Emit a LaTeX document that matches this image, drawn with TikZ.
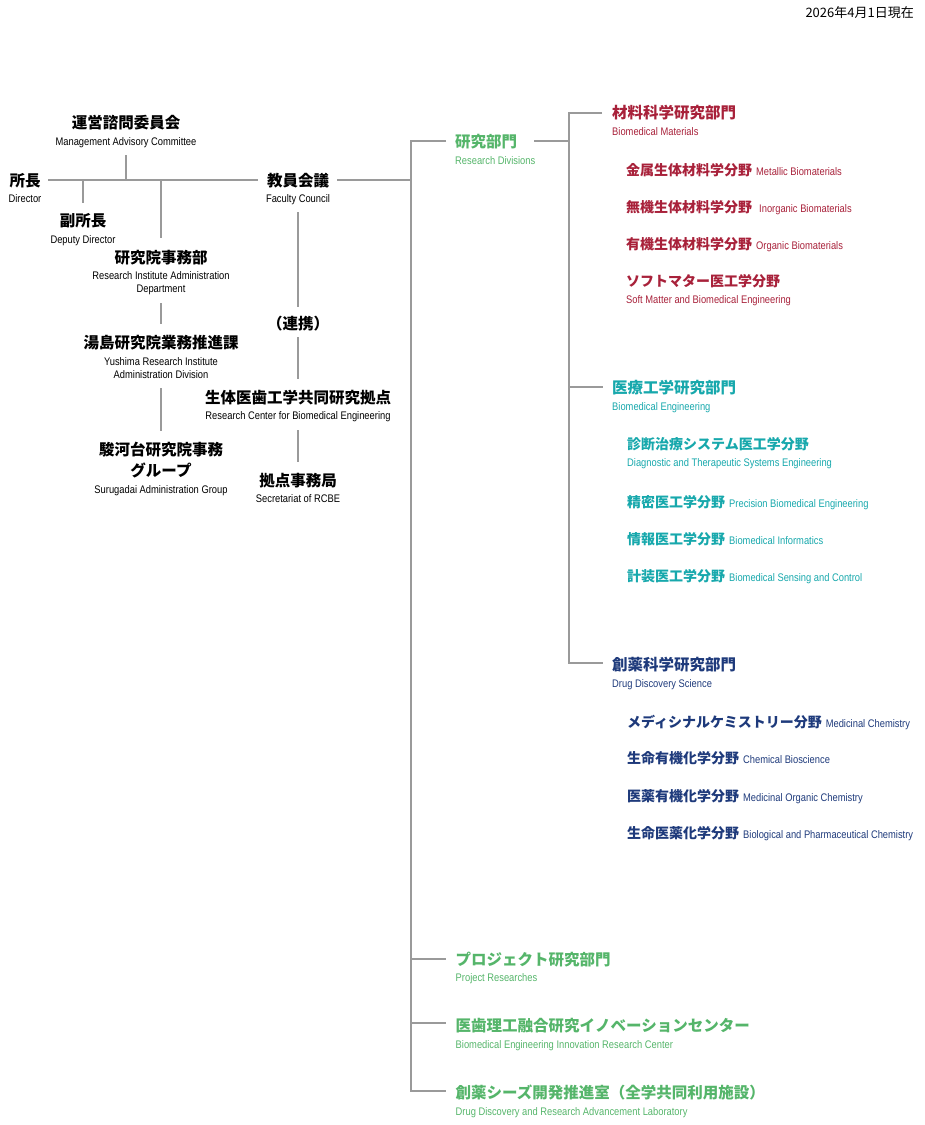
\documentclass[tikz,border=0pt]{standalone}
\usepackage{fontspec}
\newfontfamily\jpf{Noto Sans CJK JP}
\newfontfamily\enf[FakeStretch=0.85]{Liberation Sans}
\newcommand\myen{\enf\mdseries\fontsize{11}{13}\selectfont}
\definecolor{lg}{HTML}{9A9A9A}
\definecolor{cred}{HTML}{A8213A}
\definecolor{cteal}{HTML}{17A8AC}
\definecolor{cnavy}{HTML}{1E3A7B}
\definecolor{cgreen}{HTML}{55B56A}
\tikzset{
  jh/.style={font=\jpf\bfseries\fontsize{15.5}{18}\selectfont, inner sep=0pt, anchor=base},
  js/.style={font=\jpf\bfseries\fontsize{14}{17}\selectfont, inner sep=0pt, anchor=base west},
  en/.style={font=\myen, inner sep=0pt, anchor=base},
  lft/.style={anchor=base west},
  conn/.style={draw=lg, line width=1.8pt},
}
\begin{document}
\begin{tikzpicture}[x=1pt,y=-1pt]
\useasboundingbox (0,0) rectangle (925,1125);
% date
\node[font=\jpf\fontsize{13}{15}\selectfont, inner sep=0pt, anchor=base east] (date) at (914,17) {2026年4月1日現在};

% left side
\node[jh] (mac) at (126,128) {運営諮問委員会};
\node[en] (mace) at (126,145) {Management Advisory Committee};
\node[jh] (dir) at (25,186) {所長};
\node[en] (dire) at (25,202) {Director};
\node[jh] (dep) at (83,226) {副所長};
\node[en] (depe) at (83,243) {Deputy Director};
\node[jh] (ria) at (161,263) {研究院事務部};
\node[en] (riae1) at (161,279) {Research Institute Administration};
\node[en] (riae2) at (161,292) {Department};
\node[jh] (yu) at (161,348) {湯島研究院業務推進課};
\node[en] (yue1) at (161,365) {Yushima Research Institute};
\node[en] (yue2) at (161,378) {Administration Division};
\node[jh] (su1) at (161,455) {駿河台研究院事務};
\node[jh] (su2) at (161,476) {グループ};
\node[en] (sue) at (161,493) {Surugadai Administration Group};
\node[jh] (fc) at (298,186) {教員会議};
\node[en] (fce) at (298,202) {Faculty Council};
\node[jh] (ren) at (298,329) {（連携）};
\node[jh] (rcbe) at (298,403) {生体医歯工学共同研究拠点};
\node[en] (rcbee) at (298,419) {Research Center for Biomedical Engineering};
\node[jh] (sec) at (298,486) {拠点事務局};
\node[en] (sece) at (298,502) {Secretariat of RCBE};

% left connectors
\coordinate (hL) at (48,180);
\coordinate (hR) at (258,180);
\coordinate (macB) at (126,155);
\coordinate (macJ) at (126,180);
\coordinate (depJ) at (83,180);
\coordinate (depT) at (83,203);
\coordinate (riaJ) at (161,180);
\coordinate (riaT) at (161,238);
\coordinate (riaB) at (161,303);
\coordinate (yuT) at (161,324);
\coordinate (yuB) at (161,388);
\coordinate (suT) at (161,431);
\coordinate (fcB) at (298,212);
\coordinate (renT) at (298,307);
\coordinate (renB) at (298,337);
\coordinate (rcbeT) at (298,379);
\coordinate (rcbeB) at (298,430);
\coordinate (secT) at (298,462);
\coordinate (fcR) at (337,180);
\coordinate (trJ) at (411,180);
\draw[conn] (hL) -- (hR);
\draw[conn] (macB) -- (macJ);
\draw[conn] (depJ) -- (depT);
\draw[conn] (riaJ) -- (riaT);
\draw[conn] (riaB) -- (yuT);
\draw[conn] (yuB) -- (suT);
\draw[conn] (fcB) -- (renT);
\draw[conn] (renB) -- (rcbeT);
\draw[conn] (rcbeB) -- (secT);
\draw[conn] (fcR) -- (trJ);

% main trunk
\node[jh, lft, text=cgreen] (rd) at (455,147.5) {研究部門};
\node[en, lft, text=cgreen] (rde) at (455,164) {Research Divisions};
\node[jh, lft, text=cgreen] (pr) at (455.5,965) {プロジェクト研究部門};
\node[en, lft, text=cgreen] (pre) at (455.5,981) {Project Researches};
\node[jh, lft, text=cgreen] (bi) at (455.5,1031) {医歯理工融合研究イノベーションセンター};
\node[en, lft, text=cgreen] (bie) at (455.5,1048) {Biomedical Engineering Innovation Research Center};
\node[jh, lft, text=cgreen] (dd) at (455.5,1098) {創薬シーズ開発推進室（全学共同利用施設）};
\node[en, lft, text=cgreen] (dde) at (455.5,1115) {Drug Discovery and Research Advancement Laboratory};

\coordinate (rdL) at (446,141);
\coordinate (trB) at (411,1091);
\coordinate (ddL) at (446,1091);
\coordinate (prJ) at (411,959);
\coordinate (prL) at (446,959);
\coordinate (biJ) at (411,1023);
\coordinate (biL) at (446,1023);
\draw[conn] (rdL) -| (trB) -- (ddL);
\draw[conn] (prJ) -- (prL);
\draw[conn] (biJ) -- (biL);

% divisions
\coordinate (rdR) at (534,141);
\coordinate (dvJ) at (569,141);
\coordinate (bmL) at (602,113);
\coordinate (dvB) at (569,663);
\coordinate (dsL) at (603,663);
\coordinate (beJ) at (569,387);
\coordinate (beL) at (603,387);
\draw[conn] (rdR) -- (dvJ);
\draw[conn] (bmL) -| (dvB) -- (dsL);
\draw[conn] (beJ) -- (beL);

% Biomedical Materials
\node[jh, lft, text=cred] (bm) at (612,118.5) {材料科学研究部門};
\node[en, lft, text=cred] (bme) at (612,135) {Biomedical Materials};
\node[js, text=cred] (bm1) at (626,175.5) {金属生体材料学分野\hspace{4pt}{\myen Metallic Biomaterials}};
\node[js, text=cred] (bm2) at (626,212.5) {無機生体材料学分野\hspace{7pt}{\myen Inorganic Biomaterials}};
\node[js, text=cred] (bm3) at (626,249.5) {有機生体材料学分野\hspace{4pt}{\myen Organic Biomaterials}};
\node[js, text=cred] (bm4) at (626,286.5) {ソフトマター医工学分野};
\node[en, lft, text=cred] (bm4e) at (626,303) {Soft Matter and Biomedical Engineering};

% Biomedical Engineering
\node[jh, lft, text=cteal] (be) at (612,393) {医療工学研究部門};
\node[en, lft, text=cteal] (bee) at (612,410) {Biomedical Engineering};
\node[js, text=cteal] (be1) at (627,449.5) {診断治療システム医工学分野};
\node[en, lft, text=cteal] (be1e) at (627,466) {Diagnostic and Therapeutic Systems Engineering};
\node[js, text=cteal] (be2) at (627,507) {精密医工学分野\hspace{4pt}{\myen Precision Biomedical Engineering}};
\node[js, text=cteal] (be3) at (627,544.5) {情報医工学分野\hspace{4pt}{\myen Biomedical Informatics}};
\node[js, text=cteal] (be4) at (627,581) {計装医工学分野\hspace{4pt}{\myen Biomedical Sensing and Control}};

% Drug Discovery Science
\node[jh, lft, text=cnavy] (ds) at (612,670) {創薬科学研究部門};
\node[en, lft, text=cnavy] (dse) at (612,687) {Drug Discovery Science};
\node[js, text=cnavy] (ds1) at (627,727) {メディシナルケミストリー分野\hspace{4pt}{\myen Medicinal Chemistry}};
\node[js, text=cnavy] (ds2) at (627,763.5) {生命有機化学分野\hspace{4pt}{\myen Chemical Bioscience}};
\node[js, text=cnavy] (ds3) at (627,801) {医薬有機化学分野\hspace{4pt}{\myen Medicinal Organic Chemistry}};
\node[js, text=cnavy] (ds4) at (627,838) {生命医薬化学分野\hspace{4pt}{\myen Biological and Pharmaceutical Chemistry}};
\end{tikzpicture}
\end{document}
